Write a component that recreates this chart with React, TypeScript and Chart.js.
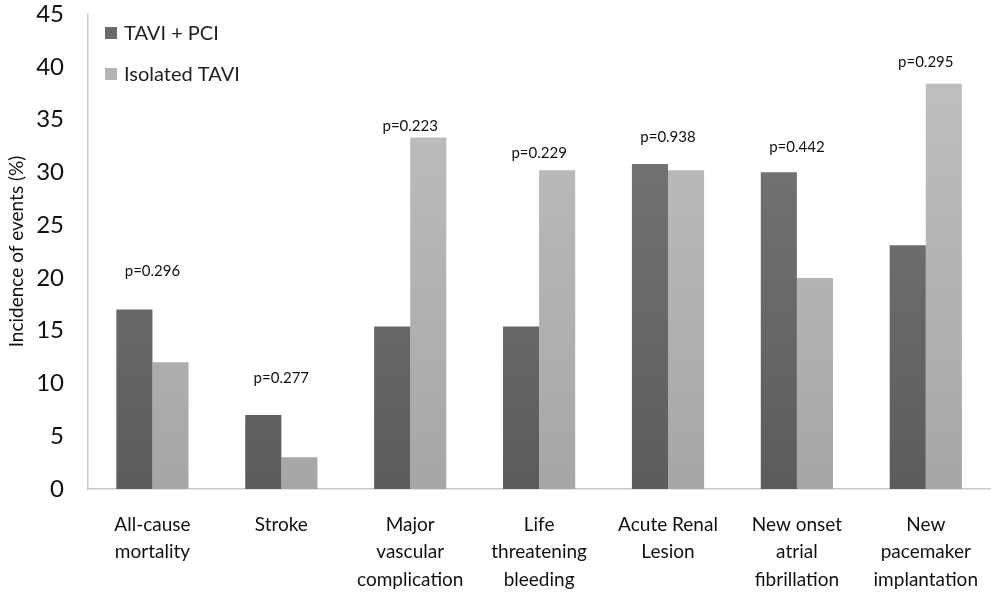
import { Chart, registerables, type Plugin } from "chart.js";
import { useEffect, useRef } from "react";

Chart.register(...registerables);

const categories = [
  ["All-cause", "mortality"],
  ["Stroke"],
  ["Major", "vascular", "complication"],
  ["Life", "threatening", "bleeding"],
  ["Acute Renal", "Lesion"],
  ["New onset", "atrial", "fibrillation"],
  ["New", "pacemaker", "implantation"]
];
const tavipci = [17, 7, 15.4, 15.4, 30.8, 30, 23.1];
const isolated = [12, 3, 33.3, 30.2, 30.2, 20, 38.4];
const pValues = ["p=0.296", "p=0.277", "p=0.223", "p=0.229", "p=0.938", "p=0.442", "p=0.295"];
const pLabelAt = [20.6, 10.5, 34.4, 31.8, 33.3, 32.4, 40.4];

const FONT = "Lato, 'Open Sans', sans-serif";

function gradient(chart: Chart, top: string, bottom: string) {
  const area = chart.chartArea;
  if (!area) return top;
  const g = chart.ctx.createLinearGradient(0, area.top, 0, area.bottom);
  g.addColorStop(0, top);
  g.addColorStop(1, bottom);
  return g;
}

const annotations: Plugin<"bar"> = {
  id: "annotations",
  afterDraw(chart) {
    const { ctx, scales } = chart;
    const x = scales.x;
    const y = scales.y;
    ctx.save();
    ctx.fillStyle = "#111";
    ctx.font = `15px ${FONT}`;
    ctx.textAlign = "center";
    ctx.textBaseline = "middle";
    pValues.forEach((p, i) => {
      ctx.fillText(p, x.getPixelForValue(i), y.getPixelForValue(pLabelAt[i]));
    });

    // legend inside plot, top-left
    const items = [
      { label: "TAVI + PCI", color: "#6a6a6a" },
      { label: "Isolated TAVI", color: "#b4b4b4" }
    ];
    ctx.textAlign = "left";
    ctx.font = `20px ${FONT}`;
    items.forEach((it, i) => {
      const yy = 33 + i * 41;
      ctx.fillStyle = it.color;
      ctx.fillRect(105, yy - 6, 12, 12);
      ctx.fillStyle = "#222";
      ctx.fillText(it.label, 124, yy + 1);
    });
    ctx.restore();
  }
};

export default function App() {
  const canvasRef = useRef<HTMLCanvasElement | null>(null);

  useEffect(() => {
    if (!canvasRef.current) return;
    document.body.style.margin = "0";
    const chart = new Chart(canvasRef.current, {
      type: "bar",
      data: {
        labels: categories,
        datasets: [
          {
            label: "TAVI + PCI",
            data: tavipci,
            backgroundColor: (c) => gradient(c.chart, "#7b7b7b", "#5c5c5c")
          },
          {
            label: "Isolated TAVI",
            data: isolated,
            backgroundColor: (c) => gradient(c.chart, "#c2c2c2", "#a6a6a6")
          }
        ]
      },
      options: {
        responsive: true,
        maintainAspectRatio: false,
        animation: false,
        layout: { padding: { top: 14, left: 0, right: 0, bottom: 0 } },
        datasets: { bar: { categoryPercentage: 0.56, barPercentage: 1 } },
        plugins: {
          legend: { display: false },
          tooltip: { enabled: false }
        },
        scales: {
          x: {
            grid: { display: false },
            border: { color: "#c8c8c8", width: 1.5 },
            ticks: {
              color: "#111",
              font: { family: FONT, size: 19, lineHeight: 1.45 },
              padding: 14,
              maxRotation: 0,
              autoSkip: false
            },
            afterFit: (s) => {
              s.height = 105;
            }
          },
          y: {
            min: 0,
            max: 45,
            grid: { display: false },
            border: { color: "#c8c8c8", width: 1.5 },
            ticks: {
              stepSize: 5,
              color: "#111",
              font: { family: FONT, size: 24 },
              padding: 16
            },
            title: {
              display: true,
              text: "Incidence of events (%)",
              color: "#111",
              font: { family: FONT, size: 19 },
              padding: { top: 5, bottom: 0 }
            },
            afterFit: (s) => {
              s.width = 88;
              s.paddingTop = 0;
              s.paddingBottom = 0;
            }
          }
        }
      },
      plugins: [annotations]
    });
    return () => chart.destroy();
  }, []);

  return (
    <div style={{ position: "relative", width: 992, height: 594, background: "#fff" }}>
      <canvas ref={canvasRef} />
    </div>
  );
}
